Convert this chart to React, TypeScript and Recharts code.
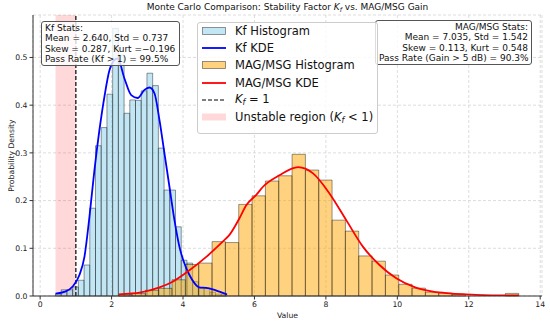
import {
  ComposedChart,
  Line,
  XAxis,
  YAxis,
  CartesianGrid,
  ReferenceArea,
  ReferenceLine,
  Label,
} from 'recharts'

// Kf histogram (30 bins, density)
const kfBinStart = 0.43
const kfBinWidth = 0.16
const kfDensity = [
  0.004, 0.013, 0.013, 0.019, 0.033, 0.065, 0.184, 0.315, 0.353, 0.423,
  0.561, 0.505, 0.383, 0.411, 0.41, 0.43, 0.467, 0.441, 0.31, 0.222,
  0.222, 0.145, 0.075, 0.069, 0.03, 0.016, 0.016, 0.008, 0.004, 0.004,
]

// MAG/MSG histogram (30 bins, density)
const magBinStart = 2.2
const magBinWidth = 0.3733
const magDensity = [
  0.003, 0.005, 0.012, 0.016, 0.034, 0.066, 0.069, 0.114, 0.112, 0.192,
  0.21, 0.241, 0.252, 0.297, 0.264, 0.243, 0.159, 0.136, 0.084, 0.073,
  0.044, 0.0245, 0.0165, 0.008, 0.006, 0.003, 0, 0, 0, 0.0055,
]

// KDE curves
const kfKdeX = [0.43, 0.7, 0.91, 1.1, 1.24, 1.38, 1.52, 1.66, 1.8, 1.94, 2.05, 2.17, 2.36, 2.55, 2.73, 2.92, 3.06, 3.2, 3.34, 3.48, 3.62, 3.76, 3.9, 4.04, 4.18, 4.32, 4.46, 4.65, 4.83, 5.02, 5.23]
const kfKdeY = [0.005, 0.009, 0.02, 0.044, 0.082, 0.166, 0.264, 0.348, 0.418, 0.473, 0.492, 0.498, 0.456, 0.421, 0.415, 0.432, 0.437, 0.425, 0.369, 0.299, 0.229, 0.159, 0.103, 0.068, 0.044, 0.027, 0.018, 0.017, 0.014, 0.009, 0.0035]
const magKdeX = [2.2, 2.5, 2.78, 3.34, 3.71, 4.18, 4.65, 5.11, 5.3, 5.58, 5.77, 6.05, 6.24, 6.7, 7.22, 7.64, 8.1, 8.57, 9.04, 9.5, 9.97, 10.5, 11.0, 11.46, 11.93, 12.4, 12.86, 13.4]
const magKdeY = [0.0035, 0.005, 0.007, 0.018, 0.03, 0.054, 0.082, 0.114, 0.128, 0.163, 0.19, 0.212, 0.229, 0.253, 0.27, 0.257, 0.215, 0.159, 0.103, 0.065, 0.037, 0.018, 0.009, 0.0055, 0.0035, 0.002, 0.0015, 0.0015]

const xTicks = [0, 2, 4, 6, 8, 10, 12, 14]
const yTicks = [0, 0.1, 0.2, 0.3, 0.4, 0.5]
const unstableFrom = 0.43
const kfThreshold = 1

const kfStats = ['Kf Stats:', 'Mean = 2.640, Std = 0.737', 'Skew = 0.287, Kurt =\u22120.196', 'Pass Rate (Kf > 1) = 99.5%']
const magStats = ['MAG/MSG Stats:', 'Mean = 7.035, Std = 1.542', 'Skew = 0.113, Kurt = 0.548', 'Pass Rate (Gain > 5 dB) = 90.3%']

const FONT = '"DejaVu Sans", sans-serif'
const kfKde = kfKdeX.map((x, i) => ({ x, y: kfKdeY[i] }))
const magKde = magKdeX.map((x, i) => ({ x, y: magKdeY[i] }))

const Kf = () => (
  <span>
    <i>K</i>
    <sub style={{ fontSize: '0.7em', fontStyle: 'italic', verticalAlign: '-0.25em' }}>f</sub>
  </span>
)

const legendItems: { label: React.ReactNode; kind: string; color: string }[] = [
  { label: 'Kf Histogram', kind: 'patch', color: 'rgba(135,206,235,0.5)' },
  { label: 'Kf KDE', kind: 'line', color: '#0000ff' },
  { label: 'MAG/MSG Histogram', kind: 'patch', color: 'rgba(255,165,0,0.5)' },
  { label: 'MAG/MSG KDE', kind: 'line', color: '#ff0000' },
  { label: <><Kf /> = 1</>, kind: 'dash', color: '#000' },
  { label: <>Unstable region (<Kf /> &lt; 1)</>, kind: 'span', color: 'rgba(255,0,0,0.15)' },
]

const boxStyle: React.CSSProperties = {
  position: 'absolute',
  background: 'rgba(255,255,255,0.8)',
  border: '1px solid #555',
  borderRadius: 3,
  fontSize: 9,
  lineHeight: '10.4px',
  color: '#111',
  whiteSpace: 'nowrap',
  boxSizing: 'border-box',
}

export default function App() {
  const bars = (start: number, width: number, values: number[], fill: string, key: string) =>
    values.map((v, i) =>
      v > 0 ? (
        <ReferenceArea
          key={key + i}
          x1={start + i * width}
          x2={start + (i + 1) * width}
          y1={0}
          y2={v}
          fill={fill}
          fillOpacity={0.5}
          stroke="#000"
          strokeOpacity={0.5}
          strokeWidth={0.8}
          ifOverflow="visible"
        />
      ) : null
    )

  return (
    <div style={{ position: 'absolute', left: 0, top: 0, width: 550, height: 323, fontFamily: FONT, background: '#fff' }}>
      <ComposedChart width={550} height={323} margin={{ top: 15, right: 8, bottom: 0, left: 0 }}>
        <CartesianGrid stroke="#d4d4d4" strokeDasharray="3 2" strokeWidth={0.8} />
        <XAxis
          type="number"
          dataKey="x"
          domain={[-0.2, 14.05]}
          ticks={xTicks}
          allowDataOverflow
          height={27}
          tickSize={3.5}
          tick={{ fontSize: 7.7, fill: '#222', fontFamily: FONT }}
          axisLine={{ stroke: '#333' }}
          tickLine={{ stroke: '#333' }}
        >
          <Label value="Value" position="insideBottom" offset={5} style={{ fontSize: 7.7, fill: '#222', fontFamily: FONT }} />
        </XAxis>
        <XAxis xAxisId="top" orientation="top" type="number" domain={[-0.2, 14.05]} height={0} tick={false} tickLine={false} axisLine={{ stroke: '#333' }} />
        <YAxis
          type="number"
          domain={[0, 0.589]}
          ticks={yTicks}
          allowDataOverflow
          width={33}
          tickSize={3.5}
          tickFormatter={(v: number) => v.toFixed(1)}
          tick={{ fontSize: 7.7, fill: '#222', fontFamily: FONT }}
          axisLine={{ stroke: '#333' }}
          tickLine={{ stroke: '#333' }}
        >
          <Label value="Probability Density" angle={-90} position="insideLeft" offset={11} style={{ fontSize: 7.7, fill: '#222', fontFamily: FONT, textAnchor: 'middle' }} />
        </YAxis>
        <YAxis yAxisId="right" orientation="right" width={0} tick={false} tickLine={false} axisLine={{ stroke: '#333' }} />

        <ReferenceArea x1={unstableFrom} x2={kfThreshold} fill="#ff0000" fillOpacity={0.15} stroke="none" />
        {bars(kfBinStart, kfBinWidth, kfDensity, '#87ceeb', 'kf')}
        {bars(magBinStart, magBinWidth, magDensity, '#ffa500', 'mag')}
        <ReferenceLine x={kfThreshold} stroke="#000" strokeDasharray="4 2" strokeWidth={1.2} />

        <Line data={kfKde} dataKey="y" type="monotone" stroke="#0000ff" strokeWidth={1.8} dot={false} isAnimationActive={false} />
        <Line data={magKde} dataKey="y" type="monotone" stroke="#ff0000" strokeWidth={1.8} dot={false} isAnimationActive={false} />
      </ComposedChart>

      {/* title */}
      <div style={{ position: 'absolute', left: 33, top: 0, width: 509, textAlign: 'center', fontSize: 9, lineHeight: '14px', color: '#111' }}>
        Monte Carlo Comparison: Stability Factor <Kf /> vs. MAG/MSG Gain
      </div>

      {/* stats boxes */}
      <div style={{ ...boxStyle, left: 41, top: 21, width: 139, height: 45, padding: '1px 3px' }}>
        {kfStats.map((s) => <div key={s}>{s}</div>)}
      </div>
      <div style={{ ...boxStyle, left: 375, top: 20, width: 157, height: 45, padding: '1px 3px', textAlign: 'right' }}>
        {magStats.map((s) => <div key={s}>{s}</div>)}
      </div>

      {/* legend */}
      <div style={{ position: 'absolute', left: 197, top: 21.5, width: 181, height: 112, background: 'rgba(255,255,255,0.8)', border: '1px solid #ccc', borderRadius: 3, boxSizing: 'border-box', padding: '0 0 0 4px' }}>
        {legendItems.map((it, i) => (
          <div key={i} style={{ display: 'flex', alignItems: 'center', height: 17.2, fontSize: 11.5, color: '#111', whiteSpace: 'nowrap' }}>
            <svg width={24} height={10} style={{ marginRight: 9, flex: 'none' }}>
              {it.kind === 'patch' && <rect x={0.5} y={1.5} width={23} height={7} fill={it.color} stroke="rgba(0,0,0,0.5)" strokeWidth={0.8} />}
              {it.kind === 'span' && <rect x={0} y={1.5} width={24} height={7} fill={it.color} />}
              {it.kind === 'line' && <line x1={0} x2={24} y1={5} y2={5} stroke={it.color} strokeWidth={1.8} />}
              {it.kind === 'dash' && <line x1={0} x2={24} y1={5} y2={5} stroke="#000" strokeWidth={1.2} strokeDasharray="4 2" />}
            </svg>
            <span>{it.label}</span>
          </div>
        ))}
      </div>
    </div>
  )
}
